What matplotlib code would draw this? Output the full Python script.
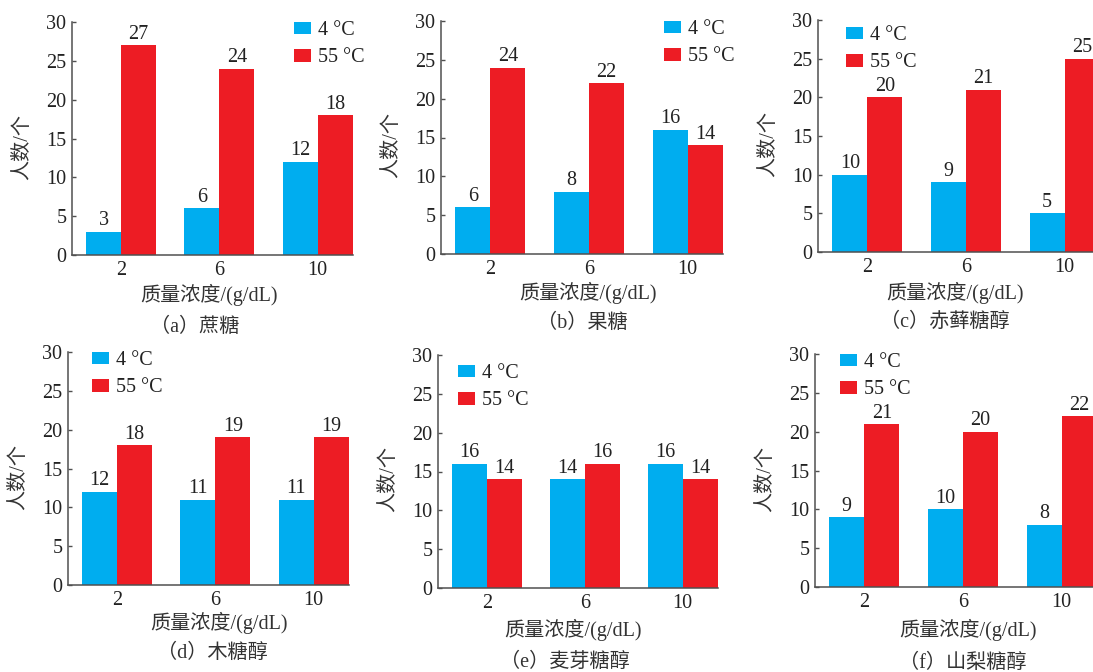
import matplotlib
matplotlib.use("Agg")
import matplotlib.pyplot as plt
from matplotlib.patches import Patch
import numpy as np

plt.rcParams['font.family'] = ['Liberation Serif', 'Noto Sans CJK SC', 'DejaVu Sans']

categories = ['2', '6', '10']
series_names = ['4 °C', '55 °C']
captions = ['（a）蔗糖', '（b）果糖', '（c）赤藓糖醇', '（d）木糖醇', '（e）麦芽糖醇', '（f）山梨糖醇']
cold_a = [3, 6, 12];   hot_a = [27, 24, 18]
cold_b = [6, 8, 16];   hot_b = [24, 22, 14]
cold_c = [10, 9, 5];   hot_c = [20, 21, 25]
cold_d = [12, 11, 11]; hot_d = [18, 19, 19]
cold_e = [16, 14, 16]; hot_e = [14, 16, 14]
cold_f = [9, 10, 8];   hot_f = [21, 20, 22]
cold_all = [cold_a, cold_b, cold_c, cold_d, cold_e, cold_f]
hot_all = [hot_a, hot_b, hot_c, hot_d, hot_e, hot_f]
yticks = [0, 5, 10, 15, 20, 25, 30]
ylabel = '人数/个'
xlabel = '质量浓度/(g/dL)'

BLUE = '#00ADEF'
RED = '#ED1C24'
SPINE = '#505050'
TXT = '#222222'
W, H = 1093, 672
fig = plt.figure(figsize=(W / 100, H / 100), dpi=100)

# layout in pixels
rects = [(72, 22, 353, 255), (441, 21, 723, 254), (818, 20, 1100, 252),
         (68, 352, 349, 585), (438, 355, 718, 588), (815, 354, 1097, 587)]
legpos = [(294, 28), (664, 27), (846, 33), (92, 358), (458, 371), (840, 360)]
xl_pos = [(209, 40), (588, 39), (955, 41), (219, 38), (573, 42), (968, 43)]
cap_pos = [(195, 72), (582, 69), (945, 70), (212, 68), (565, 74), (963, 76)]

FS = 14.5
bw = 0.355
for i in range(6):
    l, t, r, b = rects[i]
    ax = fig.add_axes([l / W, 1 - b / H, (r - l) / W, (b - t) / H])
    x = np.arange(len(categories))
    b1 = ax.bar(x - bw / 2, cold_all[i], bw, color=BLUE)
    b2 = ax.bar(x + bw / 2, hot_all[i], bw, color=RED)
    ax.bar_label(b1, padding=1, fontsize=FS, color=TXT)
    ax.bar_label(b2, padding=1, fontsize=FS, color=TXT)
    ax.set_xlim(-0.5, 2.36)
    ax.set_ylim(0, 30)
    ax.set_yticks(yticks)
    ax.set_xticks(x)
    ax.set_xticklabels(categories)
    for s in ['top', 'right']:
        ax.spines[s].set_visible(False)
    for s in ['left', 'bottom']:
        ax.spines[s].set_color(SPINE)
        ax.spines[s].set_linewidth(1.1)
    ax.tick_params(axis='y', direction='in', length=3, width=1, color=SPINE,
                   labelsize=FS, pad=4, labelcolor=TXT)
    ax.tick_params(axis='x', length=0, labelsize=FS, pad=4, labelcolor=TXT)
    fig.text((l - 49) / W, 1 - ((t + b) / 2 + 8) / H, ylabel, rotation=90,
             ha='center', va='center', fontsize=FS, color='#333333')
    xx, dy = xl_pos[i]
    fig.text(xx / W, 1 - (b + dy) / H, xlabel, ha='center', va='center', fontsize=FS, color='#333333')
    xx, dy = cap_pos[i]
    fig.text(xx / W, 1 - (b + dy) / H, captions[i], ha='center', va='center', fontsize=FS, color='#333333')
    lx, ly = legpos[i]
    handles = [Patch(facecolor=BLUE), Patch(facecolor=RED)]
    ax.legend(handles, series_names, loc='upper left',
              bbox_to_anchor=(lx / W, 1 - (ly - 7) / H), bbox_transform=fig.transFigure,
              frameon=False, fontsize=FS, borderpad=0, borderaxespad=0,
              handlelength=0.85, handleheight=0.6, handletextpad=0.35, labelspacing=0.42,
              labelcolor=TXT)

fig.savefig('out.png', dpi=100)
